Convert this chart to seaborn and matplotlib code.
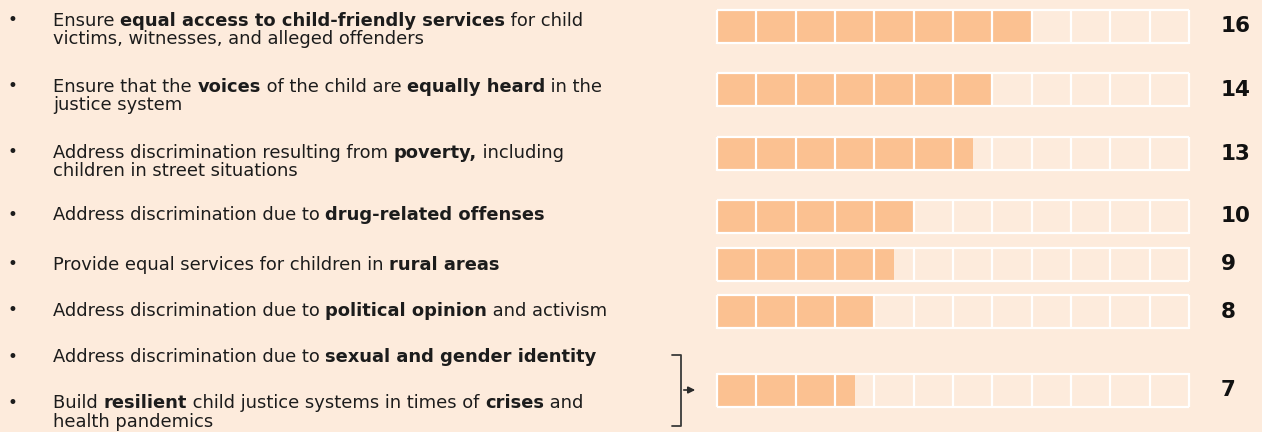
import matplotlib
matplotlib.use("Agg")
import matplotlib.pyplot as plt
import seaborn as sns
import pandas as pd

# ---- data ----
labels = [
    "Ensure **equal access to child-friendly services** for child\nvictims, witnesses, and alleged offenders",
    "Ensure that the **voices** of the child are **equally heard** in the\njustice system",
    "Address discrimination resulting from **poverty,** including\nchildren in street situations",
    "Address discrimination due to **drug-related offenses**",
    "Provide equal services for children in **rural areas**",
    "Address discrimination due to **political opinion** and activism",
    "Address discrimination due to **sexual and gender identity**",
    "Build **resilient** child justice systems in times of **crises** and\nhealth pandemics",
]
counts = [16, 14, 13, 10, 9, 8, 7]
scale_max = 24
cell_size = 2

# ---- layout (pixels) ----
W, H = 1262, 432
BG = "#FDEBDC"
FILL = "#FBC191"
INK = "#1c1c1c"
FONT = "DejaVu Sans"
FS = 12.9
label_base = [25.5, 91.5, 157.5, 220.5, 269.5, 315.5, 362.5, 408.5]
line_gap = 18.5
bar_y = [26.5, 89.5, 153.5, 216.5, 264, 311.5, 390]
bar_h = 33
bar_x0, bar_x1 = 717, 1189
text_x, bullet_x, num_x = 53, 8, 1221

sns.set_style("white")
plt.rcParams["font.family"] = [FONT]

fig = plt.figure(figsize=(W / 100, H / 100), dpi=100, facecolor=BG)

# bars
ax = fig.add_axes([bar_x0 / W, 0, (bar_x1 - bar_x0) / W, 1])
ax.set_facecolor("none")
df = pd.DataFrame({"count": counts, "ypos": bar_y})
gaps = [b - a for a, b in zip(sorted(bar_y)[:-1], sorted(bar_y)[1:])]
sns.barplot(data=df, x="count", y="ypos", orient="h", native_scale=True,
            width=bar_h / min(gaps), color=FILL, saturation=1, linewidth=0, ax=ax)
for y in bar_y:
    ax.hlines([y - bar_h / 2, y + bar_h / 2], 0, scale_max, color="white", lw=1.6, clip_on=False)
    ax.vlines(range(0, scale_max + 1, cell_size), y - bar_h / 2 - 0.5, y + bar_h / 2 + 0.5,
              color="white", lw=1.6, clip_on=False)
ax.set_xlim(0, scale_max)
ax.set_ylim(H, 0)
ax.axis("off")

# overlay in pixel coords for labels
ov = fig.add_axes([0, 0, 1, 1])
ov.set_xlim(0, W)
ov.set_ylim(H, 0)
ov.axis("off")
ov.set_facecolor("none")

renderer = fig.canvas.get_renderer()


def text_w(s, weight="normal"):
    t = ov.text(0, 0, s, fontsize=FS, weight=weight)
    w = t.get_window_extent(renderer).width
    t.remove()
    return w


def run_w(s, weight):
    # sentinel bars keep leading/trailing spaces in the measurement
    return text_w("|" + s + "|", weight) - text_w("||", weight)


for lab, base in zip(labels, label_base):
    ov.text(bullet_x, base - 0.5, "\u2022", fontsize=12, color=INK, va="baseline")
    for k, line in enumerate(lab.split("\n")):
        x = text_x
        y = base + k * line_gap
        for i, run in enumerate(line.split("**")):
            if not run:
                continue
            wt = "bold" if i % 2 else "normal"
            ov.text(x, y, run, fontsize=FS, color=INK, va="baseline", weight=wt)
            x += run_w(run, wt)

for c, y in zip(counts, bar_y):
    ov.text(num_x, y, str(c), fontsize=15.5, weight="bold", color="#111111", va="center", ha="left")

# bracket joining the last two items
ov.plot([672, 681, 681, 672], [355, 355, 426, 426], color="#3a3a3a", lw=1.3)
ov.annotate("", xy=(698, 390), xytext=(681, 390),
            arrowprops=dict(arrowstyle="-|>", color="#2a2a2a", lw=1.2, mutation_scale=10))

fig.savefig("out.png", dpi=100, facecolor=BG)
